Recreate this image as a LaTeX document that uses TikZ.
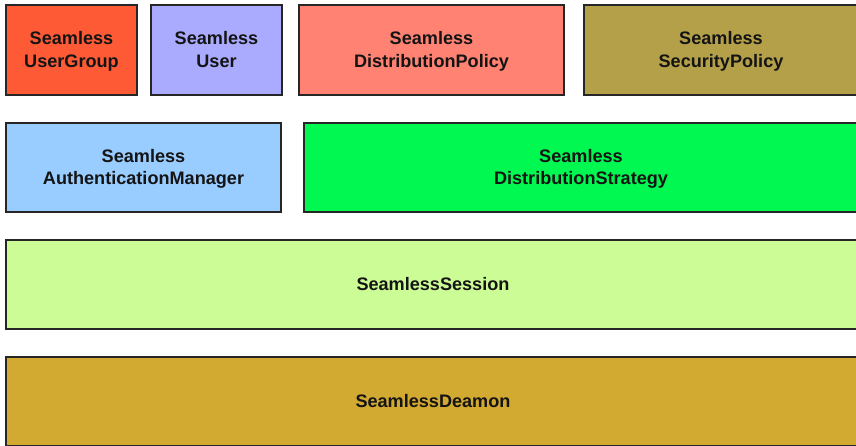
\documentclass[tikz,border=0pt]{standalone}
\usepackage{fontspec}
\setmainfont{Liberation Sans}
\definecolor{cug}{HTML}{FE5A35}
\definecolor{cus}{HTML}{AAAAFF}
\definecolor{cdp}{HTML}{FF8272}
\definecolor{csp}{HTML}{B5A04A}
\definecolor{cam}{HTML}{99CCFF}
\definecolor{cds}{HTML}{00F851}
\definecolor{css}{HTML}{CCFC95}
\definecolor{cdm}{HTML}{D2A931}
\newcommand{\boxline}[1]{\rule[-5.2pt]{0pt}{22.4pt}#1}
\begin{document}
\begin{tikzpicture}[x=1pt,y=-1pt,
  box/.style={draw=black!85, line width=1.3pt, rectangle, inner sep=0pt,
    align=center, font=\fontsize{18.1}{22.4}\selectfont\bfseries, text=black!92}]
\useasboundingbox (0,0) rectangle (856,445);
% row 1
\node[box, fill=cug, minimum width=131pt, minimum height=90pt] (ug) at (71.5,50) {\boxline{Seamless}\\\boxline{UserGroup}};
\node[box, fill=cus, minimum width=131pt, minimum height=90pt] (us) at (216.5,50) {\boxline{Seamless}\\\boxline{User}};
\node[box, fill=cdp, minimum width=265pt, minimum height=90pt] (dp) at (431.5,50) {\boxline{Seamless}\\\boxline{DistributionPolicy}};
\node[box, fill=csp, minimum width=274pt, minimum height=90pt] (sp) at (721,50) {\boxline{Seamless}\\\boxline{SecurityPolicy}};
% row 2
\node[box, fill=cam, minimum width=275pt, minimum height=89pt] (am) at (143.5,167.5) {\boxline{Seamless}\\\boxline{AuthenticationManager}};
\node[box, fill=cds, minimum width=554pt, minimum height=89pt] (ds) at (581,167.5) {\boxline{Seamless}\\\boxline{DistributionStrategy}};
% row 3
\node[box, fill=css, minimum width=854pt, minimum height=89pt] (ss) at (433,284.5) {\boxline{SeamlessSession}};
% row 4
\node[box, fill=cdm, minimum width=854pt, minimum height=89pt] (dm) at (433,401.5) {\boxline{SeamlessDeamon}};
\end{tikzpicture}
\end{document}
